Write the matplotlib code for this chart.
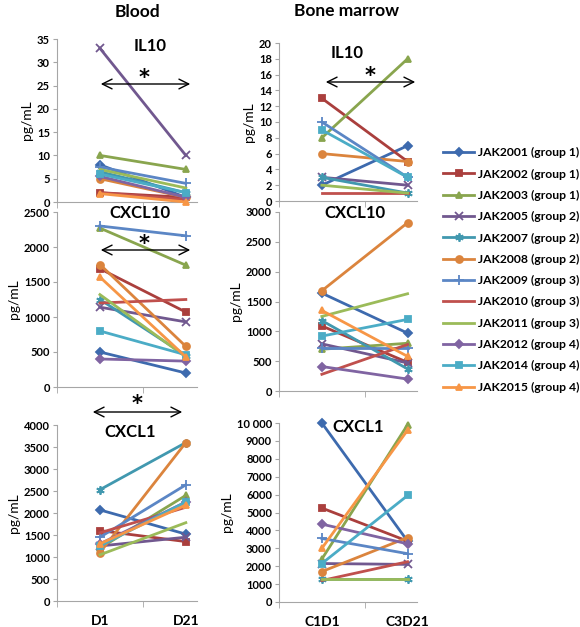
import numpy as np
import matplotlib
matplotlib.use('Agg')
import matplotlib.pyplot as plt
from matplotlib.lines import Line2D

plt.rcParams['font.family'] = ['Lato', 'DejaVu Sans']

W, H = 580, 627

# patients and styles (Excel-like)
patients = ['JAK2001 (group 1)', 'JAK2002 (group 1)', 'JAK2003 (group 1)',
            'JAK2005 (group 2)', 'JAK2007 (group 2)', 'JAK2008 (group 2)',
            'JAK2009 (group 3)', 'JAK2010 (group 3)', 'JAK2011 (group 3)',
            'JAK2012 (group 4)', 'JAK2014 (group 4)', 'JAK2015 (group 4)']
colors = ['#3D6AAE', '#AA3F3D', '#89A54E', '#71588F', '#4198AF', '#DB843D',
          '#5B86C5', '#C0504D', '#9BBB59', '#8064A2', '#4BACC6', '#F79646']
markers = ['D', 's', '^', 'x', (6, 2, 0), 'o', '+', None, None, 'D', 's', '^']
msizes = [4, 5, 5, 6, 6, 5, 7, 0, 0, 4, 5, 5]

nan = np.nan
# [D1, D21] per patient, same order as patients
blood_il10 = [[8, 1], [2, 1], [10, 7], [33, 10], [6.5, 2], [5, 1],
              [7.5, 4], [2, 0.5], [7, 3], [5.5, 1], [6, 2], [1.8, 0]]
blood_cxcl10 = [[500, 200], [1690, 1070], [2270, 1740], [1140, 930],
                [1250, 450], [1750, 580], [2300, 2160], [1200, 1250],
                [1320, 430], [400, 370], [800, 460], [1570, 430]]
blood_cxcl1 = [[2070, 1520], [1600, 1350], [1200, 2400], [1250, 1450],
               [2530, 3600], [1100, 3600], [1450, 2640], [1550, 2130],
               [1050, 1780], [1300, 2250], [1250, 2250], [1300, 2180]]
# [C1D1, C3D21]
bm_il10 = [[2, 7], [13, 5], [8, 18], [3, 2], [3, 1], [6, 5],
           [10, 3], [1, 1], [2, 1], [nan, nan], [9, 3], [nan, nan]]
bm_cxcl10 = [[1640, 970], [1090, 480], [700, 800], [790, 470],
             [1180, 370], [1680, 2820], [720, 720], [280, 780],
             [1250, 1630], [410, 200], [920, 1200], [1350, 580]]
bm_cxcl1 = [[10000, 3400], [5250, 3400], [2400, 9900], [2150, 2100],
            [1300, 1300], [1700, 3600], [3550, 2700], [1200, 2250],
            [1300, 1300], [4350, 3250], [2150, 5950], [3000, 9600]]

blood_days = ['D1', 'D21']
bm_days = ['C1D1', 'C3D21']


def px(x, y):
    return x / W, 1 - y / H


def add_axes(x0, x1, ytop, ybot):
    l, b = px(x0, ybot)
    return fig.add_axes([l, b, (x1 - x0) / W, (ybot - ytop) / H])


def panel(ax, data, ymax, ystep, xright, days=None, ylabels=None):
    for i, vals in enumerate(data):
        ax.plot([0, 1], vals, color=colors[i], lw=2,
                marker=markers[i], ms=msizes[i], mew=1.3, clip_on=False,
                zorder=3)
    ax.set_xlim(-0.5, xright)
    ax.set_ylim(0, ymax)
    ticks = np.arange(0, ymax + 1, ystep)
    ax.set_yticks(ticks)
    if ylabels is not None:
        ax.set_yticklabels(ylabels)
    for s in ['top', 'right']:
        ax.spines[s].set_visible(False)
    for s in ['left', 'bottom']:
        ax.spines[s].set_color('#A6A6A6')
    ax.set_xticks([0, 1])
    ax.set_xticks([-0.5, 0.5], minor=True)
    ax.tick_params(axis='x', which='major', length=0, pad=10)
    ax.tick_params(axis='x', which='minor', length=4, color='#A6A6A6')
    ax.tick_params(axis='y', length=3, color='#A6A6A6', labelsize=8, pad=2)
    for t in ax.get_yticklabels():
        t.set_fontweight('bold')
    if days is None:
        ax.set_xticklabels([])
    else:
        ax.set_xticklabels(days, fontsize=10, fontweight='bold')
    ax.set_ylabel('pg/mL', fontsize=10, labelpad=3)


def txt(x, y, s, size=12, family=None):
    fig.text(*px(x, y), s, ha='center', va='center', fontsize=size,
             fontweight='bold', family=family)


def star(x, y):
    txt(x, y + 3, '*', 15, ['DejaVu Sans'])


def arrow(x0, x1, y):
    fig.add_artist(matplotlib.patches.FancyArrowPatch(
        px(x0, y), px(x1, y), transform=fig.transFigure,
        arrowstyle='<->,head_length=7,head_width=3.5', lw=1, color='black',
        mutation_scale=1, zorder=5))


fig = plt.figure(figsize=(W / 100, H / 100), dpi=100)

ax1 = add_axes(57, 197, 39, 202)
panel(ax1, blood_il10, 35, 5, 1.13)
ax2 = add_axes(57, 197, 212, 387)
panel(ax2, blood_cxcl10, 2500, 500, 1.13)
ax3 = add_axes(57, 197, 425, 601)
panel(ax3, blood_cxcl1, 4000, 500, 1.13, blood_days)

ax4 = add_axes(279, 417, 43, 201)
panel(ax4, bm_il10, 20, 2, 1.11)
ax5 = add_axes(279, 417, 212, 391)
panel(ax5, bm_cxcl10, 3000, 500, 1.11)
bm_ticks = [str(v) for v in range(0, 10000, 1000)] + ['10 000']
ax6 = add_axes(279, 417, 423, 602)
panel(ax6, bm_cxcl1, 10000, 1000, 1.11, bm_days, bm_ticks)

txt(137, 12, 'Blood', 12.5)
txt(347, 11, 'Bone marrow', 12.5)
txt(150, 46, 'IL10')
txt(140, 213, 'CXCL10')
txt(130, 432, 'CXCL1')
txt(347, 53, 'IL10')
txt(355, 213, 'CXCL10')
txt(358, 427, 'CXCL1')

arrow(98, 193, 84)
star(144, 75)
arrow(98, 193, 250)
star(144, 241)
arrow(90, 185, 412)
star(137, 401)
arrow(323, 418, 82)
star(370, 73)

handles = [Line2D([], [], color=colors[i], lw=2, marker=markers[i],
                  ms=msizes[i], mew=1.3) for i in range(len(patients))]
fig.legend(handles, patients, loc='center left',
           bbox_to_anchor=px(432, 270), frameon=False,
           handlelength=2.6, handletextpad=0.3, labelspacing=0.85,
           prop={'weight': 'bold', 'size': 8.7})

plt.savefig('out.png', dpi=100)
